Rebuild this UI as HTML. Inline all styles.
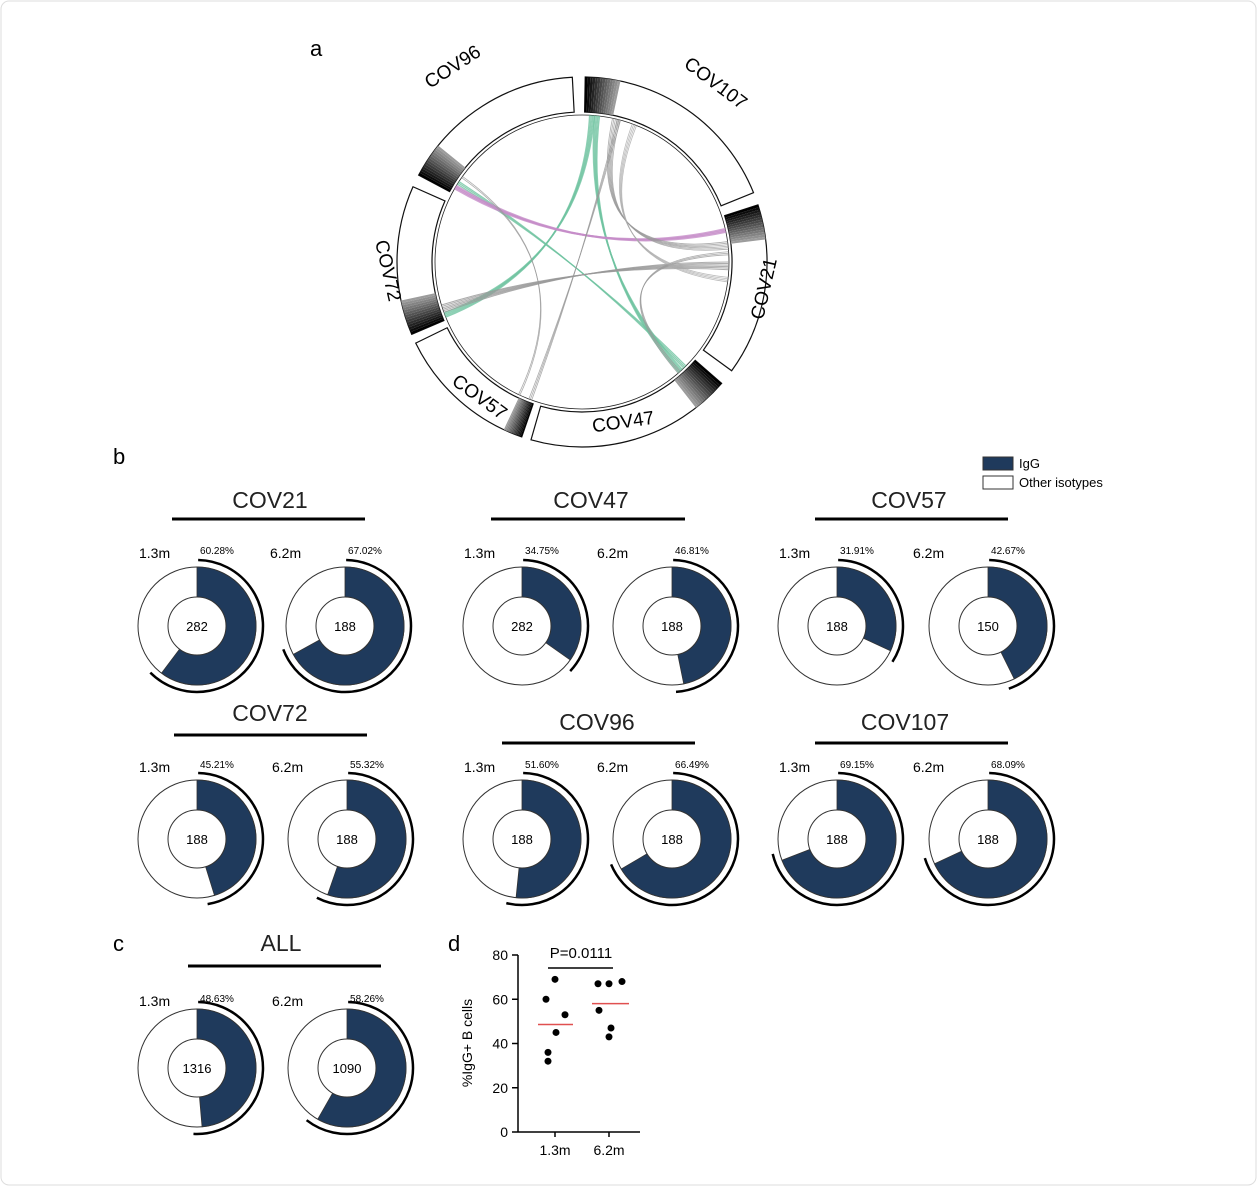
<!DOCTYPE html><html><head><meta charset="utf-8"><style>body{margin:0;background:#fff}svg{display:block;font-family:"Liberation Sans",Arial,sans-serif}</style></head><body>
<svg id="s" width="1257" height="1186" viewBox="0 0 1257 1186" xmlns="http://www.w3.org/2000/svg">
<rect x="1" y="1" width="1255" height="1184" rx="8" fill="#fff" stroke="#ddd"/>
<g font-size="22"><text x="310" y="56">a</text><text x="113" y="464">b</text><text x="113" y="951">c</text><text x="448" y="951">d</text></g>
</svg>
<script>
const S=document.getElementById('s');const NS='http://www.w3.org/2000/svg';
function el(t,a,txt){const e=document.createElementNS(NS,t);for(const k in a)e.setAttribute(k,a[k]);if(txt!=null)e.textContent=txt;S.appendChild(e);return e;}
function pt(cx,cy,r,d){const a=d*Math.PI/180;return [cx+r*Math.sin(a),cy-r*Math.cos(a)];}
function arc(cx,cy,r,a0,a1){const p=pt(cx,cy,r,a0),q=pt(cx,cy,r,a1);return `M${p[0]},${p[1]}A${r},${r} 0 ${(a1-a0)>180?1:0} 1 ${q[0]},${q[1]}`;}
function band(cx,cy,r0,r1,a0,a1){const p=pt(cx,cy,r1,a0),q=pt(cx,cy,r1,a1),u=pt(cx,cy,r0,a1),v=pt(cx,cy,r0,a0);const l=(a1-a0)>180?1:0;return `M${p[0]},${p[1]}A${r1},${r1} 0 ${l} 1 ${q[0]},${q[1]}L${u[0]},${u[1]}A${r0},${r0} 0 ${l} 0 ${v[0]},${v[1]}Z`;}
// circos
const C=[582,262],R0=150,R1=185;
el('circle',{cx:C[0],cy:C[1],r:147,fill:'none',stroke:'#222','stroke-width':0.8});
const segs=[['COV107',1,68],['COV21',72,126],['COV47',131,196],['COV57',199,244],['COV72',247,294],['COV96',298,357]];
segs.forEach(s=>{el('path',{d:band(C[0],C[1],R0,R1,s[1],s[2]),fill:'#fff',stroke:'#111','stroke-width':1.2});
const w=s[0]=='COV57'?6:11;for(let i=0;i<14;i++){const a=s[1]+i*w/14;el('path',{d:band(C[0],C[1],R0,R1,a,a+w/14),fill:`rgb(${i*12},${i*12},${i*12})`});}});
const lab=[['COV107',712,88,37],['COV21',770,290,-77],['COV47',624,428,-8],['COV57',476,402,36],['COV72',382,272,77],['COV96',456,72,-33]];
lab.forEach(l=>el('text',{x:l[1],y:l[2],'font-size':19,'text-anchor':'middle',transform:`rotate(${l[3]} ${l[1]} ${l[2]})`},l[0]));
function chord(a,b,col,w,n){for(let i=0;i<n;i++){const p=pt(C[0],C[1],147,a+i*0.6),q=pt(C[0],C[1],147,b+i*0.6);el('path',{d:`M${p[0]},${p[1]}Q${C[0]},${C[1]} ${q[0]},${q[1]}`,fill:'none',stroke:col,'stroke-width':w,opacity:0.8});}}
chord(3,248,'#6fc3a0',1.5,4);chord(5,137,'#6fc3a0',1.5,4);chord(302,135,'#6fc3a0',1.2,3);chord(300,77,'#c68cc8',2,3);
chord(90,250,'#999',1,6);chord(12,82,'#999',0.8,6);chord(14,200,'#999',0.8,3);chord(86,138,'#999',0.8,3);chord(305,205,'#999',0.8,2);chord(20,96,'#aaa',0.8,4);
// donuts
const NAVY='#1f3a5c';
function donut(cx,cy,p,n){el('circle',{cx,cy,r:59,fill:'#fff',stroke:'#333','stroke-width':1});
el('path',{d:band(cx,cy,29,59,0,p*3.6),fill:NAVY,stroke:'#333','stroke-width':0.8});
el('circle',{cx,cy,r:29,fill:'#fff',stroke:'#333','stroke-width':1});
el('path',{d:arc(cx,cy,66,1,Math.min(p*3.6+8,359)),fill:'none',stroke:'#000','stroke-width':2.5});
el('text',{x:cx,y:cy+5,'font-size':13,'text-anchor':'middle'},String(n));}
function group(name,tx,ty,lx0,lx1,ly,cx1,cx2,cy,ry,p1,n1,p2,n2){
el('text',{x:tx,y:ty,'font-size':23,'text-anchor':'middle',fill:'#222'},name);
el('line',{x1:lx0,x2:lx1,y1:ly,y2:ly,stroke:'#000','stroke-width':3});
el('text',{x:cx1-58,y:ry,'font-size':14},'1.3m');el('text',{x:cx2-75,y:ry,'font-size':14},'6.2m');
el('text',{x:cx1+20,y:ry-4,'font-size':10,'text-anchor':'middle'},p1.toFixed(2)+'%');
el('text',{x:cx2+20,y:ry-4,'font-size':10,'text-anchor':'middle'},p2.toFixed(2)+'%');
donut(cx1,cy,p1,n1);donut(cx2,cy,p2,n2);}
group('COV21',270,508,172,365,519,197,345,626,558,60.28,282,67.02,188);
group('COV47',591,508,491,685,519,522,672,626,558,34.75,282,46.81,188);
group('COV57',909,508,815,1008,519,837,988,626,558,31.91,188,42.67,150);
group('COV72',270,721,174,367,735,197,347,839,772,45.21,188,55.32,188);
group('COV96',597,730,502,695,743,522,672,839,772,51.60,188,66.49,188);
group('COV107',905,730,815,1008,743,837,988,839,772,69.15,188,68.09,188);
group('ALL',281,951,188,381,966,197,347,1068,1006,48.63,1316,58.26,1090);
// legend
el('rect',{x:983,y:457,width:30,height:13,fill:NAVY,stroke:'#333'});el('text',{x:1019,y:468,'font-size':13},'IgG');
el('rect',{x:983,y:476,width:30,height:13,fill:'#fff',stroke:'#333'});el('text',{x:1019,y:487,'font-size':13},'Other isotypes');
// panel d
const y0=1132,k=177/80;const Y=v=>y0-v*k;
el('line',{x1:518,x2:518,y1:Y(80),y2:y0,stroke:'#000','stroke-width':1.5});
el('line',{x1:518,x2:640,y1:y0,y2:y0,stroke:'#000','stroke-width':1.5});
[0,20,40,60,80].forEach(v=>{el('line',{x1:512,x2:518,y1:Y(v),y2:Y(v),stroke:'#000','stroke-width':1.5});el('text',{x:508,y:Y(v)+5,'font-size':14,'text-anchor':'end'},String(v));});
[555,609].forEach(x=>el('line',{x1:x,x2:x,y1:y0,y2:y0+5,stroke:'#000','stroke-width':1.5}));
el('text',{x:555,y:1155,'font-size':14,'text-anchor':'middle'},'1.3m');el('text',{x:609,y:1155,'font-size':14,'text-anchor':'middle'},'6.2m');
el('text',{x:472,y:1043,'font-size':14,'text-anchor':'middle',transform:'rotate(-90 472 1043)'},'%IgG+ B cells');
el('text',{x:581,y:958,'font-size':15,'text-anchor':'middle'},'P=0.0111');
el('line',{x1:548,x2:613,y1:968,y2:968,stroke:'#000','stroke-width':1.5});
[[555,69],[546,60],[565,53],[556,45],[548,36],[548,32]].forEach(d=>el('circle',{cx:d[0],cy:Y(d[1]),r:3.5,fill:'#000'}));
[[598,67],[609,67],[622,68],[599,55],[611,47],[609,43]].forEach(d=>el('circle',{cx:d[0],cy:Y(d[1]),r:3.5,fill:'#000'}));
el('line',{x1:538,x2:573,y1:Y(48.6),y2:Y(48.6),stroke:'#e05050','stroke-width':1.5});
el('line',{x1:592,x2:629,y1:Y(58),y2:Y(58),stroke:'#e05050','stroke-width':1.5});
</script></body></html>
